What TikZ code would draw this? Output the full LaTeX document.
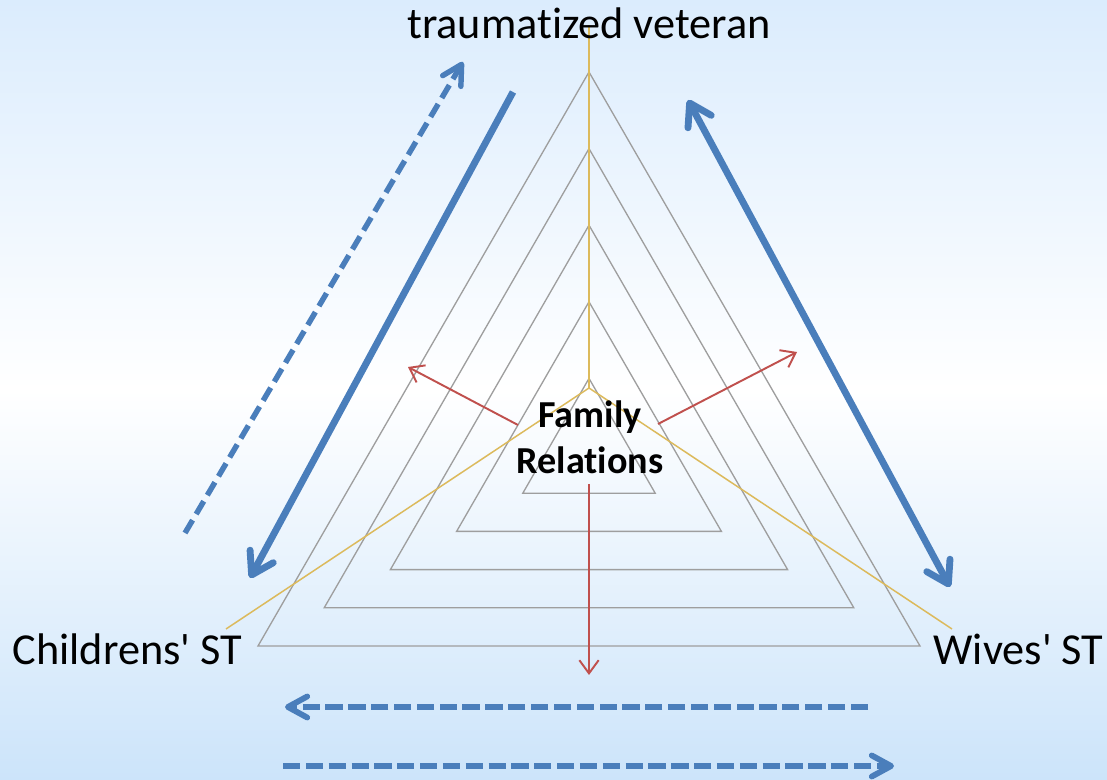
\documentclass[tikz,border=0pt]{standalone}
\usepackage{fontspec}
\setmainfont{Carlito}[Ligatures=NoCommon]
\usetikzlibrary{arrows.meta}
\definecolor{bgtop}{RGB}{219,236,253}
\definecolor{bgmid}{RGB}{255,255,255}
\definecolor{bgbot}{RGB}{204,228,250}
\definecolor{trigray}{RGB}{158,158,158}
\definecolor{axisyellow}{RGB}{220,186,92}
\definecolor{relred}{RGB}{192,80,77}
\definecolor{flowblue}{RGB}{74,126,187}
\tikzset{
  bighead/.tip={Straight Barb[length=12pt,width=15pt,round]},
  dashhead/.tip={Straight Barb[length=11pt,width=12pt,round]},
  redhead/.tip={Straight Barb[length=7.5pt,width=11pt]}
}
\begin{document}
\begin{tikzpicture}[x=0.02cm,y=-0.02cm,
  tri/.style={draw=trigray,line width=0.75pt,line join=miter},
  axis/.style={draw=axisyellow,line width=0.85pt},
  relarrow/.style={draw=relred,line width=1.1pt,-{redhead}},
  flowsolid/.style={draw=flowblue,line width=3.9pt},
  flowdash/.style={draw=flowblue,line width=3.1pt,dash pattern=on 8.5pt off 4pt},
  flowdashh/.style={draw=flowblue,line width=3.3pt,dash pattern=on 9.8pt off 3.2pt},
  lbl/.style={font=\fontsize{25.2}{30}\selectfont,inner sep=0pt,anchor=base},
  centerlbl/.style={font=\fontsize{21.7}{26.6}\selectfont\bfseries,align=center,inner sep=0pt,anchor=base}
]
\useasboundingbox (0,0) rectangle (1107,780);
\shade[top color=bgtop,bottom color=bgmid] (0,0) rectangle (1107,390);
\shade[top color=bgmid,bottom color=bgbot] (0,389.5) rectangle (1107,780);

% concentric triangles about centroid (589,455)
\foreach \s in {1,...,5}{
  \draw[tri] ({589},{455-76.6*\s}) -- ({589+66.2*\s},{455+38.2*\s}) -- ({589-66.2*\s},{455+38.2*\s}) -- cycle;
}

% yellow axes
\coordinate (hub) at (589,388);
\coordinate (axTop) at (589,25);
\coordinate (axLeft) at (226,629);
\coordinate (axRight) at (952,629);
\draw[axis] (axTop) -- (hub);
\draw[axis] (axLeft) -- (hub) -- (axRight);

% labels
\node[lbl] (vet) at (589,39) {traumatized veteran};
\node[lbl] (child) at (127.5,665) {Childrens\textquotesingle{} ST};
\node[lbl] (wives) at (1018.5,665) {Wives\textquotesingle{} ST};
\node[centerlbl] (fam) at (590,474) {Family\\Relations};

% red arrows
\coordinate (rL0) at (518,425); \coordinate (rL1) at (408,367);
\coordinate (rR0) at (658,424); \coordinate (rR1) at (797,352);
\coordinate (rD0) at (589,484); \coordinate (rD1) at (589,675);
\draw[relarrow] (rL0) -- (rL1);
\draw[relarrow] (rR0) -- (rR1);
\draw[relarrow] (rD0) -- (rD1);

% blue flow arrows
\coordinate (dA0) at (185,533); \coordinate (dA1) at (463,62);
\coordinate (sA0) at (513,92);  \coordinate (sA1) at (250,578);
\coordinate (wA0) at (688,100); \coordinate (wA1) at (950,587);
\coordinate (b10) at (868,707); \coordinate (b11) at (285,707);
\coordinate (b20) at (283,766); \coordinate (b21) at (894,766);
\draw[flowdash,-{dashhead}] (dA0) -- (dA1);
\draw[flowsolid,-{bighead}] (sA0) -- (sA1);
\draw[flowsolid,{bighead}-{bighead}] (wA0) -- (wA1);
\draw[flowdashh,-{dashhead}] (b10) -- (b11);
\draw[flowdashh,-{dashhead}] (b20) -- (b21);
\end{tikzpicture}
\end{document}
